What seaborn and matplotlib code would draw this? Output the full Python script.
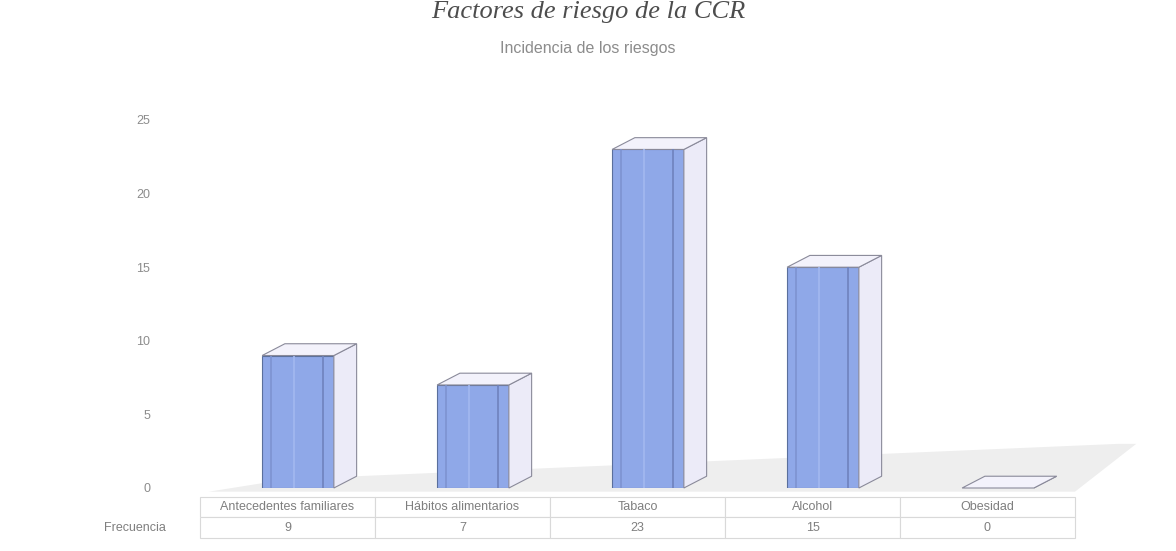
import matplotlib
matplotlib.use("Agg")
import matplotlib.pyplot as plt
from matplotlib.patches import Polygon
import seaborn as sns
import pandas as pd

# Data
categories = ["Antecedentes familiares", "Hábitos alimentarios", "Tabaco", "Alcohol", "Obesidad"]
values = [9, 7, 23, 15, 0]
row_label = "Frecuencia"
y_ticks = [0, 5, 10, 15, 20, 25]
title = "Factores de riesgo de la CCR"
subtitle = "Incidencia de los riesgos"

sns.set_theme(style="white")
plt.rcParams["font.family"] = ["Liberation Sans", "DejaVu Sans"]

fig = plt.figure(figsize=(11.76, 5.51), dpi=100)
ax = fig.add_axes([200 / 1176, 63 / 551, 875 / 1176, 368 / 551])

df = pd.DataFrame({"cat": categories, "val": values})
front = "#8fa8e8"
sns.barplot(data=df, x="cat", y="val", color=front, width=0.41, ax=ax,
            edgecolor="#5a6f9c", linewidth=0.8, saturation=1)

ax.set_xlim(-0.5, len(categories) - 0.5)
ax.set_ylim(0, 25)

bars = list(ax.patches)

# Floor of the 3D-looking plot
floor = Polygon([(-0.45, -0.25), (4.5, -0.25), (4.85, 3.0), (4.75, 3.0), (0.0, 0.6)],
                closed=True, facecolor="#eeeeee", edgecolor="none",
                zorder=0.5, clip_on=False)
ax.add_patch(floor)

# Depth faces for each bar (front face nudged right, as in a perspective view)
shift = 0.06
dx, dy = 0.13, 0.8
for p in bars:
    p.set_x(p.get_x() + shift)
    x0, w, h = p.get_x(), p.get_width(), p.get_height()
    x1 = x0 + w
    side = Polygon([(x1, 0), (x1 + dx, dy), (x1 + dx, h + dy), (x1, h)], closed=True,
                   facecolor="#ecebf8", edgecolor="#8a8a9a", linewidth=0.8,
                   zorder=p.get_zorder(), clip_on=False)
    top = Polygon([(x0, h), (x0 + dx, h + dy), (x1 + dx, h + dy), (x1, h)], closed=True,
                  facecolor="#f3f2fb", edgecolor="#8a8a9a", linewidth=0.8,
                  zorder=p.get_zorder(), clip_on=False)
    ax.add_patch(side)
    ax.add_patch(top)
    # subtle inner stripes on the front face
    if h > 0:
        for frac, col in ((0.12, "#7d93d0"), (0.45, "#a3b8f0"), (0.85, "#6f82bd")):
            ax.plot([x0 + frac * w] * 2, [0, h], color=col, lw=1.2,
                    zorder=p.get_zorder() + 0.1, solid_capstyle="butt")

ax.set_yticks(y_ticks)
ax.set_yticklabels([str(t) for t in y_ticks], color="#8c8c8c", fontsize=9)
ax.tick_params(axis="y", length=0, pad=36)
ax.set_xticks([])
ax.set_xlabel("")
ax.set_ylabel("")
for s in ax.spines.values():
    s.set_visible(False)

# Data table beneath the plot
label_w = 130 / 875
cell_text = [[row_label] + [str(v) for v in values]]
col_labels = [""] + categories
tbl = ax.table(cellText=cell_text, colLabels=col_labels,
               colWidths=[label_w] + [1 / len(categories)] * len(categories),
               cellLoc="center", bbox=[-label_w, -0.135, 1 + label_w, 0.11])
tbl.auto_set_font_size(False)
for (r, c), cell in tbl.get_celld().items():
    cell.set_fontsize(9)
    cell.get_text().set_color("#7f7f7f")
    cell.set_edgecolor("#d9d9d9")
    cell.set_linewidth(0.8)
    cell.set_facecolor("white")
    if c == 0:
        cell.set_edgecolor("white")

fig.text(0.5, 0.978, title, ha="center", va="center", fontsize=19,
         color="#4d4d4d", family="Liberation Serif", style="italic")
fig.text(0.5, 0.912, subtitle, ha="center", va="center", fontsize=11.5,
         color="#8c8c8c")

fig.savefig("out.png", dpi=100, facecolor="white")
